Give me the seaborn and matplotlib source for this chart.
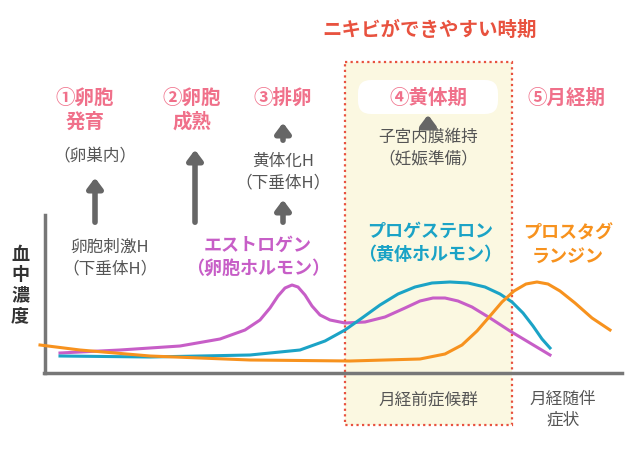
import matplotlib
matplotlib.use("Agg")
import matplotlib.pyplot as plt
import seaborn as sns
import pandas as pd
from matplotlib.patches import FancyBboxPatch, Rectangle

plt.rcParams["font.family"] = "Noto Sans CJK JP"

# curve data (chart pixel units, y grows downward)
est_x = [60, 120, 180, 220, 245, 260, 270, 278, 285, 292, 298, 305, 312, 320, 330, 345, 365, 385, 405, 420, 433, 445, 458, 472, 490, 510, 530, 550]
est_y = [353, 350, 346, 339, 330, 320, 308, 296, 288, 285, 287, 295, 306, 315, 320, 323, 322, 317, 308, 301, 298, 298, 301, 307, 318, 331, 343, 355]
pro_x = [60, 150, 250, 300, 325, 345, 362, 380, 398, 415, 432, 450, 468, 485, 500, 512, 523, 533, 542, 550]
pro_y = [356, 357, 355, 350, 341, 330, 318, 305, 294, 287, 283, 282, 283, 287, 294, 302, 313, 326, 339, 348]
pg_x = [40, 80, 150, 250, 350, 420, 445, 462, 477, 490, 502, 514, 526, 537, 548, 560, 575, 592, 610]
pg_y = [345, 350, 356, 360, 361, 359, 354, 345, 331, 316, 302, 291, 284, 282, 284, 291, 303, 318, 330]

PINK = "#f0708a"
GRAY = "#555555"
PURPLE = "#c75ec7"
TEAL = "#1ba3c6"
ORANGE = "#f7921e"
RED = "#e8523f"

fig = plt.figure(figsize=(6.4, 4.5), dpi=100)
ax = fig.add_axes([0, 0, 1, 1])

# premenstrual period box
ax.add_patch(Rectangle((345, 62), 167, 363, facecolor="#fbf8e1", edgecolor=RED,
                       linestyle=(0, (1, 1.5)), linewidth=1.6, zorder=0))
ax.add_patch(FancyBboxPatch((358, 80), 140, 34, boxstyle="round,pad=0,rounding_size=13",
                            facecolor="white", edgecolor="none", zorder=1))

# axes lines
ax.plot([45, 45], [215, 373], color="#777777", lw=2.5)
ax.plot([44, 622], [373, 373], color="#777777", lw=2.5)

df = pd.concat([
    pd.DataFrame({"x": est_x, "y": est_y, "h": "est"}),
    pd.DataFrame({"x": pro_x, "y": pro_y, "h": "pro"}),
    pd.DataFrame({"x": pg_x, "y": pg_y, "h": "pg"}),
])
sns.lineplot(data=df, x="x", y="y", hue="h", sort=False, ax=ax, legend=False,
             palette={"est": PURPLE, "pro": TEAL, "pg": ORANGE}, linewidth=2.2)
ax.set_xlim(0, 640)
ax.set_ylim(450, 0)
ax.axis("off")

ax.text(430, 30, "ニキビができやすい時期", color=RED, fontsize=14, fontweight="bold", ha="center", va="center")
for x, y, s in [(85, 110, "①卵胞\n発育"), (192, 110, "②卵胞\n成熟"), (283, 98, "③排卵"),
                (428, 98, "④黄体期"), (566, 98, "⑤月経期")]:
    ax.text(x, y, s, color=PINK, fontsize=14, fontweight="bold", ha="center", va="center",
            linespacing=1.3, zorder=3)

for x, y, s in [(95, 157, "（卵巣内）"), (283, 172, "黄体化H\n（下垂体H）"),
                (428, 148, "子宮内膜維持\n（妊娠準備）"), (110, 258, "卵胞刺激H\n（下垂体H）"),
                (428, 400, "月経前症候群"), (563, 410, "月経随伴\n症状")]:
    ax.text(x, y, s, color=GRAY, fontsize=12, ha="center", va="center", linespacing=1.3)

for x, y0, y1 in [(95, 225, 175), (195, 225, 147), (283, 143, 120), (283, 225, 197), (428, 130, 112)]:
    ax.annotate("", xy=(x, y1), xytext=(x, y0),
                arrowprops=dict(arrowstyle="-|>,head_width=0.45,head_length=0.6", color="#666666", lw=4))

ax.text(258, 257, "エストロゲン\n（卵胞ホルモン）", color=PURPLE, fontsize=13, fontweight="bold",
        ha="center", va="center", linespacing=1.3)
ax.text(430, 243, "プロゲステロン\n（黄体ホルモン）", color=TEAL, fontsize=13, fontweight="bold",
        ha="center", va="center", linespacing=1.3)
ax.text(568, 245, "プロスタグ\nランジン", color=ORANGE, fontsize=13, fontweight="bold",
        ha="center", va="center", linespacing=1.3)
ax.text(20, 285, "血\n中\n濃\n度", color="#333333", fontsize=13, fontweight="bold",
        ha="center", va="center", linespacing=1.1)

fig.savefig("out.png", dpi=100)
